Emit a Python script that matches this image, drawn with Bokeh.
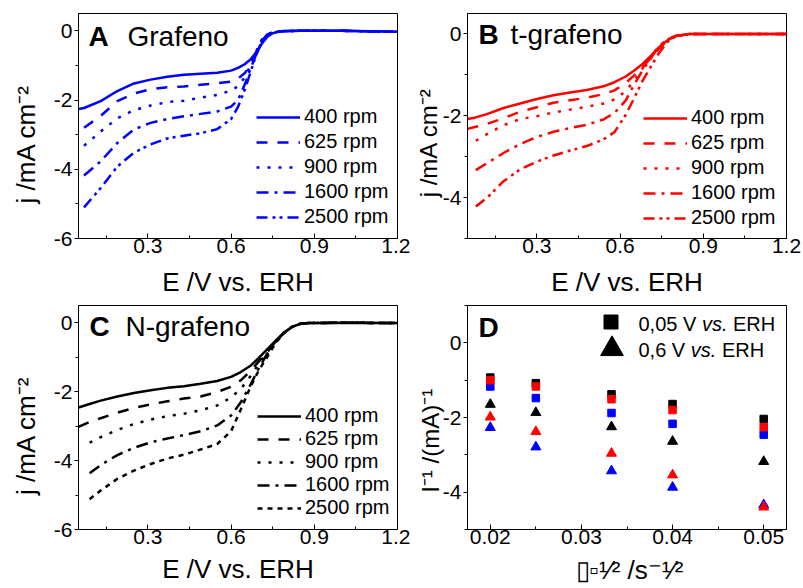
import numpy as np
from bokeh.plotting import figure
from bokeh.models import (Range1d, FixedTicker, CustomJSTickFormatter, Label,
                          Legend, LegendItem)
from bokeh.layouts import column, row
from bokeh.embed import file_html
from bokeh.resources import INLINE

nan = np.nan

# ---------------- Panel A: Grafeno ----------------
E_A = [0.05, 0.07, 0.13, 0.19, 0.25, 0.31, 0.37, 0.43, 0.49, 0.55, 0.60, 0.625,
       0.65, 0.67, 0.69, 0.71, 0.73, 0.75, 0.78, 0.85, 1.0, 1.2]
j_A_400 = [-2.26, -2.23, -2.03, -1.74, -1.52, -1.41, -1.33, -1.27, -1.24, -1.21, -1.15, -1.07,
           -0.96, -0.83, -0.63, -0.38, -0.18, -0.07, -0.01, 0.0, 0.0, -0.03]
j_A_625 = [nan, -2.80, -2.46, -2.03, -1.81, -1.69, -1.63, -1.61, -1.56, -1.51, -1.47, -1.38,
           -1.22, -0.98, -0.62, -0.30, -0.11, -0.04, -0.01, 0.0, 0.0, -0.03]
j_A_900 = [nan, -3.32, -2.91, -2.53, -2.29, -2.16, -2.06, -2.02, -1.93, -1.85, -1.73, -1.60,
           -1.34, -1.00, -0.60, -0.26, -0.10, -0.04, -0.01, 0.0, 0.0, -0.03]
j_A_1600 = [nan, -4.18, -3.77, -3.24, -2.85, -2.66, -2.55, -2.47, -2.40, -2.33, -2.19, -2.00,
            -1.54, -1.10, -0.69, -0.33, -0.12, -0.05, -0.01, 0.0, 0.0, -0.03]
j_A_2500 = [nan, -5.10, -4.54, -3.92, -3.52, -3.28, -3.11, -3.03, -2.96, -2.84, -2.55, -2.20,
            -1.69, -1.20, -0.71, -0.33, -0.12, -0.05, -0.01, 0.0, 0.0, -0.03]

# ---------------- Panel B: t-grafeno ----------------
E_B = [0.05, 0.08, 0.12, 0.18, 0.24, 0.30, 0.36, 0.42, 0.48, 0.54, 0.58, 0.62, 0.65,
       0.68, 0.71, 0.74, 0.77, 0.80, 0.85, 1.0, 1.2]
j_B_400 = [-2.08, -2.04, -1.96, -1.81, -1.70, -1.59, -1.50, -1.43, -1.37, -1.28, -1.18, -1.04,
           -0.90, -0.74, -0.54, -0.33, -0.16, -0.05, 0.0, 0.0, 0.0]
j_B_625 = [-2.32, -2.27, -2.20, -2.06, -1.90, -1.79, -1.68, -1.62, -1.56, -1.47, -1.38, -1.20,
           -1.02, -0.82, -0.59, -0.36, -0.16, -0.05, 0.0, 0.0, 0.0]
j_B_900 = [nan, -2.61, -2.45, -2.23, -2.08, -2.01, -1.92, -1.85, -1.78, -1.70, -1.60, -1.40,
           -1.15, -0.85, -0.56, -0.30, -0.14, -0.05, 0.0, 0.0, 0.0]
j_B_1600 = [nan, -3.33, -3.16, -2.91, -2.69, -2.52, -2.39, -2.30, -2.22, -2.09, -1.93, -1.63,
            -1.25, -0.90, -0.61, -0.30, -0.14, -0.05, 0.0, 0.0, 0.0]
j_B_2500 = [nan, -4.22, -4.01, -3.60, -3.31, -3.12, -2.97, -2.85, -2.74, -2.58, -2.40, -1.98,
            -1.58, -1.16, -0.81, -0.47, -0.20, -0.06, 0.0, 0.0, 0.0]

# ---------------- Panel C: N-grafeno ----------------
E_C = [0.05, 0.09, 0.13, 0.19, 0.25, 0.31, 0.37, 0.43, 0.49, 0.55, 0.60, 0.635, 0.67,
       0.70, 0.73, 0.76, 0.79, 0.82, 0.85, 0.88, 1.0, 1.2]
j_C_400 = [-2.46, -2.36, -2.26, -2.14, -2.04, -1.96, -1.89, -1.84, -1.77, -1.69, -1.57, -1.43,
           -1.25, -1.02, -0.77, -0.53, -0.29, -0.12, -0.03, -0.01, 0.0, -0.01]
j_C_625 = [-3.02, -2.88, -2.77, -2.61, -2.47, -2.37, -2.28, -2.20, -2.14, -2.01, -1.86, -1.67,
           -1.40, -1.12, -0.84, -0.56, -0.30, -0.12, -0.03, -0.01, 0.0, -0.01]
j_C_900 = [nan, -3.48, -3.32, -3.11, -2.94, -2.81, -2.71, -2.64, -2.54, -2.40, -2.17, -1.92,
           -1.55, -1.19, -0.86, -0.56, -0.30, -0.12, -0.03, -0.01, 0.0, -0.01]
j_C_1600 = [nan, -4.37, -4.13, -3.84, -3.63, -3.47, -3.36, -3.26, -3.15, -2.98, -2.69, -2.31,
            -1.80, -1.32, -0.90, -0.56, -0.30, -0.12, -0.03, -0.01, 0.0, -0.01]
j_C_2500 = [nan, -5.12, -4.87, -4.53, -4.29, -4.10, -3.94, -3.83, -3.68, -3.52, -3.15, -2.52,
            -1.86, -1.38, -1.00, -0.60, -0.30, -0.12, -0.03, -0.01, 0.0, -0.01]

rpm_labels = ["400 rpm", "625 rpm", "900 rpm", "1600 rpm", "2500 rpm"]

# ---------------- Panel D: Koutecky-Levich ----------------
w_inv = [0.02, 0.025, 0.0333, 0.04, 0.05]
sq_black = [-0.93, -1.08, -1.38, -1.64, -2.04]
sq_blue = [-1.17, -1.48, -1.88, -2.17, -2.46]
sq_red = [-1.00, -1.17, -1.51, -1.80, -2.26]
tri_black = [-1.65, -1.87, -2.25, -2.64, -3.18]
tri_blue = [-2.27, -2.79, -3.43, -3.87, -4.34]
tri_red = [-1.99, -2.38, -2.96, -3.54, -4.40]

FONT = "Liberation Sans"
DASHES = ["solid", "11 10", "3 8", "12 6 3 6", "11 5 3 4 3 5"]
DASHES_C = ["solid", "11 10", "3 8", "12 6 3 6", "5 5"]
NB = "\u00a0"

XLAB = "E /V vs. ERH"
YLAB = "j /mA cm\u207b\u00b2"
YLAB_D = "I\u207b\u00b9 /(mA)\u207b\u00b9"
XLAB_D = "\u25af\u25ab\u00b9\u2044\u00b2 /s\u207b\u00b9\u2044\u00b2"

W = {'E': 667, ' ': 278, '/': 278, 'V': 667, 'v': 500, 's': 500, '.': 278, 'R': 722,
     'H': 722, '0': 556, ',': 278, '5': 556, '6': 556}


def tw(s, size):
    return sum(W.get(ch, 556) for ch in s) * size / 1000.0


def put(p, text, x, y, size, style="normal"):
    # y is the vertical centre of the capitals, measured up from the frame bottom
    p.add_layout(Label(x=x, y=y, x_units="screen", y_units="screen", text=text,
                       text_font=FONT, text_font_size=f"{size}px", text_font_style=style,
                       text_color="black", text_align="left", text_baseline="middle"))


def run_h(p, pieces, x, y):
    for text, size, style in pieces:
        lead = text[:len(text) - len(text.lstrip())]
        put(p, text.strip(), x + tw(lead, size), y, size, style)
        x += tw(text, size)


def make_fig(w, h, xr, yr, borders, xt, xmt, yt, ymt, xcode, xlab, xstand, ylab, ystand,
             ylh=1.2, ysize=26):
    bl, br, bt, bb = borders
    p = figure(width=w, height=h, x_range=Range1d(*xr), y_range=Range1d(*yr),
               output_backend="svg", toolbar_location=None, title=None,
               min_border_left=bl, min_border_right=br, min_border_top=bt,
               min_border_bottom=bb)
    p.grid.visible = False
    p.outline_line_color = "black"
    p.outline_line_width = 1
    p.outline_line_alpha = 1
    p.background_fill_color = "white"
    p.border_fill_color = "white"
    for ax in (p.xaxis[0], p.yaxis[0]):
        ax.axis_line_color = "black"
        ax.major_tick_line_color = "black"
        ax.minor_tick_line_color = "black"
        ax.major_label_text_font = FONT
        ax.major_label_text_font_size = "21px"
        ax.major_label_text_color = "black"
        ax.axis_label_text_font = FONT
        ax.axis_label_text_font_size = "26px"
        ax.axis_label_text_font_style = "normal"
        ax.axis_label_text_color = "black"
    xa = p.xaxis[0]
    xa.ticker = FixedTicker(ticks=xt, minor_ticks=xmt)
    xa.formatter = CustomJSTickFormatter(code=xcode)
    xa.major_tick_in = 5
    xa.major_tick_out = 0
    xa.minor_tick_in = 3
    xa.minor_tick_out = 0
    xa.major_label_standoff = 0
    xa.axis_label = xlab
    xa.axis_label_standoff = xstand
    ya = p.yaxis[0]
    ya.ticker = FixedTicker(ticks=yt, minor_ticks=ymt)
    ya.formatter = CustomJSTickFormatter(code="return tick.toFixed(0);")
    ya.major_tick_in = 0
    ya.major_tick_out = 4
    ya.minor_tick_in = 0
    ya.minor_tick_out = 3
    ya.major_label_standoff = 2
    ya.axis_label = ylab
    ya.axis_label_standoff = ystand
    ya.axis_label_text_line_height = ylh
    ya.axis_label_text_font_size = f"{ysize}px"
    return p


def lsv_panel(p, E, curves, color, dashes, legend_loc, spacing):
    items = []
    for ys, dash, lab in zip(curves, dashes, rpm_labels):
        r = p.line(np.array(E), np.array(ys, dtype=float), line_color=color,
                   line_width=2.5, line_dash=dash)
        items.append(LegendItem(label=lab, renderers=[r]))
    leg = Legend(items=items, location=legend_loc, glyph_width=44, glyph_height=20,
                 label_height=20, spacing=spacing, padding=0, margin=0, label_standoff=4,
                 label_text_font=FONT, label_text_font_size="20px",
                 label_text_color="black", border_line_alpha=0,
                 background_fill_alpha=0)
    p.add_layout(leg)


XT = [0.3, 0.6, 0.9, 1.2]
XMT = [0.15, 0.45, 0.75, 1.05]
XCODE = "return tick.toFixed(1);"

# ---- A ----
pA = make_fig(410, 300, (0.05, 1.2), (-6, 0.5), (78, 13, 13, 62), XT, XMT,
              [-6, -4, -2, 0], [-5, -3, -1], XCODE, XLAB, 11, YLAB + NB * 5, 10)
lsv_panel(pA, E_A, [j_A_400, j_A_625, j_A_900, j_A_1600, j_A_2500], "#0000ff", DASHES,
          (178, 10), 2)
put(pA, "A", 10, 202, 28, "bold")
put(pA, "Grafeno", 49, 202, 28)

# ---- B ----
pB = make_fig(392, 300, (0.05, 1.2), (-5, 0.5), (57, 16, 13, 62), XT, XMT,
              [-4, -2, 0], [-5, -3, -1], XCODE, XLAB, 11, YLAB + NB * 5, -2,
              ylh=1.0, ysize=24)
lsv_panel(pB, E_B, [j_B_400, j_B_625, j_B_900, j_B_1600, j_B_2500], "#ff0000", DASHES,
          (176, 9), 2)
put(pB, "B", 11, 204, 28, "bold")
put(pB, "t-grafeno", 43, 204, 28)

# ---- C ----
pC = make_fig(410, 287, (0.05, 1.2), (-6, 0.5), (78, 13, 4, 58), XT, XMT,
              [-6, -4, -2, 0], [-5, -3, -1], XCODE, XLAB, 7, YLAB + NB * 5, 10)
lsv_panel(pC, E_C, [j_C_400, j_C_625, j_C_900, j_C_1600, j_C_2500], "black", DASHES_C,
          (179, 10), 0)
put(pC, "C", 11, 203, 28, "bold")
put(pC, "N-grafeno", 47, 203, 28)

# ---- D ----
pD = make_fig(392, 287, (0.0175, 0.0525), (-5, 1), (57, 16, 5, 58),
              [0.02, 0.03, 0.04, 0.05], [0.025, 0.035, 0.045],
              [-4, -2, 0], [-5, -3, -1, 1], "return tick.toFixed(2);",
              XLAB_D, 8, YLAB_D + NB * 7, -4, ylh=1.0, ysize=24)
r_sqk = pD.scatter(w_inv, sq_black, marker="square", size=7.5, color="black")
pD.scatter(w_inv, sq_blue, marker="square", size=7.5, color="#0000ff")
pD.scatter(w_inv, sq_red, marker="square", size=7.5, color="#ff0000")
r_trk = pD.scatter(w_inv, tri_black, marker="triangle", size=10, color="black")
pD.scatter(w_inv, tri_blue, marker="triangle", size=10, color="#0000ff")
pD.scatter(w_inv, tri_red, marker="triangle", size=10, color="#ff0000")
for rend, box, loc in ((r_sqk, 35, (126, 190)), (r_trk, 57, (116, 152))):
    pD.add_layout(Legend(items=[LegendItem(label=" ", renderers=[rend])], location=loc,
                         glyph_width=box, glyph_height=box, padding=0, margin=0,
                         label_standoff=0, label_text_font_size="4px",
                         border_line_alpha=0, background_fill_alpha=0))
run_h(pD, [("0,05 V ", 20, "normal"), ("vs.", 20, "italic"), (" ERH", 20, "normal")],
      171, 206)
run_h(pD, [("0,6 V ", 20, "normal"), ("vs.", 20, "italic"), (" ERH", 20, "normal")],
      171, 180)
put(pD, "D", 11, 202, 28, "bold")

layout = column(row(pA, pB), row(pC, pD))
open("out.html", "w").write(file_html(layout, INLINE))
